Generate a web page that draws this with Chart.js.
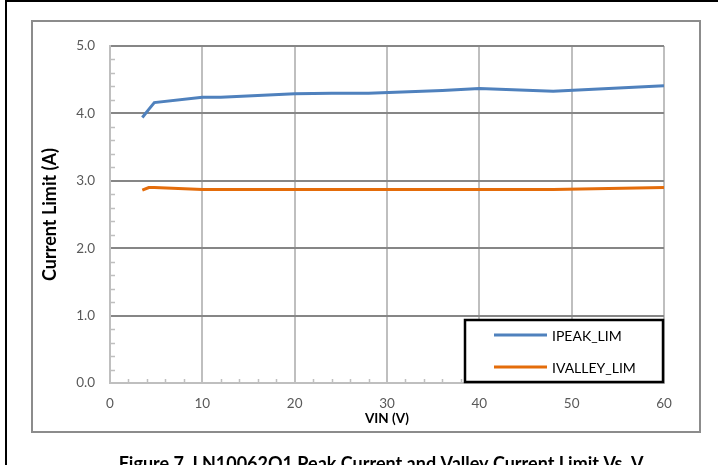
<!DOCTYPE html>
<html>
<head>
<meta charset="utf-8">
<script src="https://cdn.jsdelivr.net/npm/chart.js@4.4.1/dist/chart.umd.min.js"></script>
<style>
  html, body { margin: 0; padding: 0; background: #fff; }
  canvas { display: block; }
</style>
</head>
<body>
<canvas id="chart" width="718" height="465"></canvas>
<script>
// values
const vin = [3.5, 4.2, 4.8, 10, 12, 20, 24, 28, 36, 40, 48, 60];
const ipeak = [3.94, 4.06, 4.16, 4.24, 4.24, 4.29, 4.30, 4.30, 4.34, 4.37, 4.33, 4.41];
const ivalley = [2.86, 2.90, 2.90, 2.87, 2.87, 2.87, 2.87, 2.87, 2.87, 2.87, 2.87, 2.90];
const seriesNames = ['IPEAK_LIM', 'IVALLEY_LIM'];
const seriesColors = ['#4f81bd', '#e46c0a'];
const caption = 'Figure 7. LN10062Q1 Peak Current and Valley Current Limit Vs. V';

const FONT = 'Lato, "Open Sans", sans-serif';

// frame, minor ticks, legend box and figure caption
const decor = {
  id: 'decor',
  beforeDraw(chart) {
    const ctx = chart.ctx;
    ctx.save();
    ctx.fillStyle = '#fff';
    ctx.fillRect(0, 0, chart.width, chart.height);
    // outer black page border
    ctx.fillStyle = '#000';
    ctx.fillRect(5, 0, 2, chart.height);
    ctx.fillRect(5, 0, chart.width - 5, 2);
    // gray chart frame
    ctx.strokeStyle = '#8c8c8c';
    ctx.lineWidth = 2;
    ctx.strokeRect(32, 21, 668, 411);
    ctx.restore();
  },
  beforeDatasetsDraw(chart) {
    const ctx = chart.ctx;
    const x = chart.scales.x, y = chart.scales.y;
    const a = chart.chartArea;
    ctx.save();
    ctx.strokeStyle = '#bfbfbf';
    ctx.lineWidth = 1.5;
    ctx.beginPath();
    for (let i = 1; i < 25; i++) {
      if (i % 5 === 0) continue;
      const py = Math.round(y.getPixelForValue(i * 0.2)) + 0.5;
      ctx.moveTo(a.left, py);
      ctx.lineTo(a.left + 5, py);
    }
    for (let i = 1; i < 30; i++) {
      if (i % 5 === 0) continue;
      const px = Math.round(x.getPixelForValue(i * 2)) + 0.5;
      ctx.moveTo(px, a.bottom);
      ctx.lineTo(px, a.bottom - 4);
    }
    ctx.stroke();
    ctx.restore();
  },
  afterDraw(chart) {
    const ctx = chart.ctx;
    ctx.save();
    // legend
    ctx.fillStyle = '#fff';
    ctx.fillRect(465, 320, 198, 62);
    ctx.strokeStyle = '#000';
    ctx.lineWidth = 2.5;
    ctx.strokeRect(465, 320, 198, 62);
    const rows = [335, 367];
    ctx.font = '14px ' + FONT;
    ctx.textBaseline = 'middle';
    chart.data.datasets.forEach((ds, i) => {
      ctx.strokeStyle = ds.borderColor;
      ctx.lineWidth = 3;
      ctx.beginPath();
      ctx.moveTo(494, rows[i]);
      ctx.lineTo(547, rows[i]);
      ctx.stroke();
      ctx.fillStyle = '#000';
      ctx.fillText(ds.label, 552, rows[i] + 1);
    });
    // caption
    ctx.fillStyle = '#000';
    ctx.textBaseline = 'alphabetic';
    ctx.font = 'bold 18px ' + FONT;
    const w1 = ctx.measureText(caption).width;
    ctx.font = 'bold 11px ' + FONT;
    const w2 = ctx.measureText('IN').width;
    const x0 = 387 - (w1 + w2) / 2;
    ctx.font = 'bold 18px ' + FONT;
    ctx.fillText(caption, x0, 470);
    ctx.font = 'bold 11px ' + FONT;
    ctx.fillText('IN', x0 + w1, 473);
    ctx.restore();
  }
};

new Chart(document.getElementById('chart'), {
  type: 'line',
  data: {
    datasets: [
      {
        label: seriesNames[0],
        data: vin.map((v, i) => ({ x: v, y: ipeak[i] })),
        borderColor: seriesColors[0],
        borderWidth: 3,
        pointRadius: 0,
        tension: 0
      },
      {
        label: seriesNames[1],
        data: vin.map((v, i) => ({ x: v, y: ivalley[i] })),
        borderColor: seriesColors[1],
        borderWidth: 3,
        pointRadius: 0,
        tension: 0
      }
    ]
  },
  options: {
    responsive: false,
    animation: false,
    layout: { padding: { left: 32, top: 46, right: 54, bottom: 33 } },
    plugins: {
      legend: { display: false },
      tooltip: { enabled: false }
    },
    scales: {
      x: {
        type: 'linear',
        min: 0,
        max: 60,
        afterFit: (s) => { s.height = 49; },
        ticks: { stepSize: 10, color: '#595959', font: { family: FONT, size: 13.5 }, padding: 13, maxRotation: 0 },
        grid: { color: '#bfbfbf', lineWidth: 2, drawTicks: false },
        border: { color: '#bfbfbf', width: 2 },
        title: {
          display: true,
          text: 'VIN (V)',
          color: '#000',
          font: { family: FONT, size: 13.5, weight: 'bold' },
          padding: { top: 0, bottom: 5 }
        }
      },
      y: {
        min: 0,
        max: 5,
        afterFit: (s) => { s.width = 78; },
        ticks: {
          stepSize: 1,
          color: '#595959',
          font: { family: FONT, size: 13.5 },
          padding: 15,
          callback: (v) => v.toFixed(1)
        },
        grid: {
          color: (c) => (c.tick && c.tick.value === 0 ? '#bfbfbf' : '#868686'),
          lineWidth: 2,
          drawTicks: false
        },
        border: { color: '#bfbfbf', width: 2 },
        title: {
          display: true,
          text: 'Current Limit (A)',
          color: '#000',
          font: { family: FONT, size: 18, weight: 'bold' },
          padding: { top: 7, bottom: 0 }
        }
      }
    }
  },
  plugins: [decor]
});
</script>
</body>
</html>
